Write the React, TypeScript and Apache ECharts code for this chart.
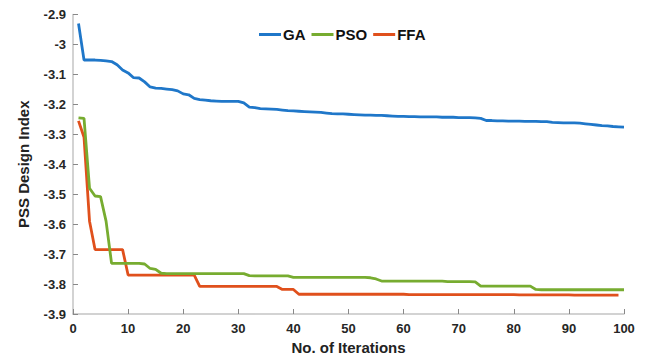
import React, { useEffect, useRef } from "react";
import * as echarts from "echarts";

const iterations: number[] = Array.from({ length: 100 }, (_, i) => i + 1);

const gaValues: number[] = [
  -2.93, -3.052, -3.052, -3.052, -3.053, -3.055, -3.057, -3.068, -3.085, -3.095,
  -3.111, -3.112, -3.125, -3.142, -3.146, -3.147, -3.149, -3.151, -3.155, -3.165,
  -3.168, -3.18, -3.184, -3.186, -3.188, -3.189, -3.19, -3.19, -3.19, -3.19,
  -3.195, -3.209, -3.211, -3.214, -3.215, -3.216, -3.217, -3.219, -3.221, -3.222,
  -3.223, -3.224, -3.225, -3.226, -3.227, -3.229, -3.231, -3.232, -3.232, -3.233,
  -3.234, -3.235, -3.236, -3.236, -3.237, -3.237, -3.238, -3.239, -3.24, -3.24,
  -3.241, -3.241, -3.242, -3.242, -3.242, -3.242, -3.243, -3.243, -3.243, -3.244,
  -3.244, -3.244, -3.245, -3.247, -3.254, -3.254, -3.255, -3.255, -3.256, -3.256,
  -3.256, -3.257, -3.257, -3.257, -3.258, -3.258, -3.26, -3.261, -3.262, -3.262,
  -3.262, -3.263, -3.265, -3.267, -3.269, -3.271, -3.272, -3.274, -3.275, -3.276,
];

const psoValues: number[] = [
  -3.245, -3.247, -3.48, -3.506, -3.508, -3.59, -3.731, -3.731, -3.731, -3.731,
  -3.731, -3.731, -3.733, -3.748, -3.751, -3.764, -3.765, -3.765, -3.765, -3.765,
  -3.765, -3.765, -3.765, -3.765, -3.765, -3.765, -3.765, -3.765, -3.765, -3.765,
  -3.765, -3.772, -3.773, -3.773, -3.773, -3.773, -3.773, -3.773, -3.773, -3.778,
  -3.778, -3.778, -3.778, -3.778, -3.778, -3.778, -3.778, -3.778, -3.778, -3.778,
  -3.778, -3.778, -3.778, -3.779, -3.783, -3.79, -3.79, -3.79, -3.79, -3.79,
  -3.79, -3.79, -3.79, -3.79, -3.79, -3.79, -3.79, -3.792, -3.792, -3.792,
  -3.792, -3.792, -3.793, -3.807, -3.807, -3.807, -3.807, -3.807, -3.807, -3.807,
  -3.807, -3.807, -3.807, -3.818, -3.819, -3.819, -3.819, -3.819, -3.819, -3.819,
  -3.819, -3.819, -3.819, -3.819, -3.819, -3.819, -3.819, -3.819, -3.819, -3.819,
];

const ffaValues: (number | null)[] = [
  -3.255, -3.31, -3.59, -3.685, -3.685, -3.685, -3.685, -3.685, -3.685, -3.77,
  -3.77, -3.77, -3.77, -3.77, -3.77, -3.77, -3.77, -3.77, -3.77, -3.77,
  -3.77, -3.77, -3.808, -3.808, -3.808, -3.808, -3.808, -3.808, -3.808, -3.808,
  -3.808, -3.808, -3.808, -3.808, -3.808, -3.808, -3.808, -3.818, -3.818, -3.818,
  -3.834, -3.834, -3.834, -3.834, -3.834, -3.834, -3.834, -3.834, -3.834, -3.834,
  -3.834, -3.834, -3.834, -3.834, -3.834, -3.834, -3.834, -3.834, -3.834, -3.834,
  -3.835, -3.835, -3.835, -3.835, -3.835, -3.835, -3.835, -3.835, -3.835, -3.835,
  -3.835, -3.835, -3.835, -3.835, -3.835, -3.835, -3.835, -3.835, -3.835, -3.835,
  -3.836, -3.836, -3.836, -3.836, -3.836, -3.836, -3.836, -3.836, -3.836, -3.836,
  -3.837, -3.837, -3.837, -3.837, -3.837, -3.837, -3.837, -3.837, -3.837, null,
];

const seriesNames = ["GA", "PSO", "FFA"];
const seriesColors = ["#1f77c9", "#77ac30", "#e0501c"];

const FONT = "'Liberation Sans', Arial, sans-serif";

export default function App() {
  const ref = useRef<HTMLDivElement>(null);

  useEffect(() => {
    if (!ref.current) return;
    const chart = echarts.init(ref.current, undefined, { renderer: "svg" });
    const allValues = [gaValues, psoValues, ffaValues];
    chart.setOption({
      animation: false,
      textStyle: { fontFamily: FONT },
      grid: { left: 52, right: 26, top: 4, bottom: 44 },
      legend: {
        left: 246,
        top: 14,
        itemWidth: 22,
        itemHeight: 14,
        itemGap: 6,
        icon: "path://M0,5.8 L22,5.8 L22,8.8 L0,8.8 Z",
        textStyle: { fontFamily: FONT, fontSize: 15, fontWeight: "bold", color: "#111", padding: [0, 0, 0, -3] },
        data: seriesNames,
      },
      xAxis: {
        type: "value",
        min: 0,
        max: 100,
        interval: 10,
        name: "No. of Iterations",
        nameLocation: "middle",
        nameGap: 26,
        nameTextStyle: { fontFamily: FONT, fontSize: 15, fontWeight: "bold", color: "#222" },
        axisLine: { show: true, lineStyle: { color: "#c4c4c4", width: 1.5 } },
        axisTick: { show: true, inside: true, length: 5, lineStyle: { color: "#888" } },
        axisLabel: { fontFamily: FONT, fontSize: 13, fontWeight: "bold", color: "#262626", margin: 8 },
        splitLine: { show: false },
      },
      yAxis: {
        type: "value",
        min: -3.9,
        max: -2.9,
        interval: 0.1,
        name: "PSS Design Index",
        nameLocation: "middle",
        nameGap: 42,
        nameTextStyle: { fontFamily: FONT, fontSize: 15, fontWeight: "bold", color: "#222" },
        axisLine: { show: true, lineStyle: { color: "#c4c4c4", width: 1.5 } },
        axisTick: { show: true, inside: true, length: 5, lineStyle: { color: "#888" } },
        axisLabel: { fontFamily: FONT, fontSize: 13, fontWeight: "bold", color: "#262626", margin: 7 },
        splitLine: { show: false },
      },
      series: seriesNames.map((name, k) => ({
        name,
        type: "line",
        showSymbol: false,
        symbol: "none",
        color: seriesColors[k],
        lineStyle: { width: 2.8, color: seriesColors[k] },
        data: iterations.map((x, i) => [x, allValues[k][i]]),
        connectNulls: false,
        z: 3 - k,
      })),
    });
    return () => chart.dispose();
  }, []);

  return <div ref={ref} style={{ width: 642, height: 352 }} />;
}
